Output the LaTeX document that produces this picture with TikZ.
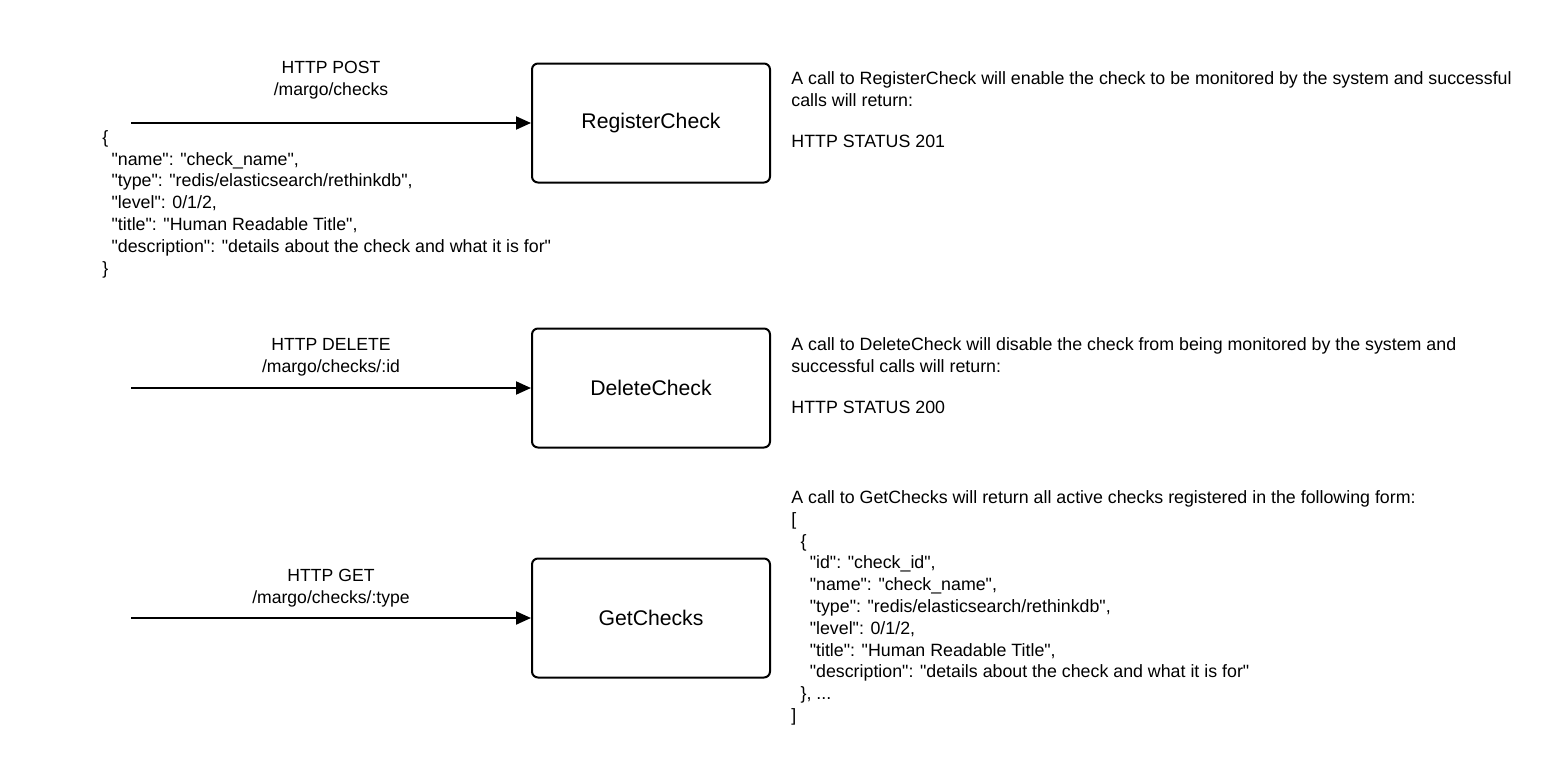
\documentclass[tikz,border=0pt]{standalone}
\usepackage{fontspec}
\setmainfont{Liberation Sans}[Ligatures=TeXOff]
\usetikzlibrary{arrows.meta,positioning}
\tikzstyle{call} = [draw=black, line width=1pt, rounded corners=3pt, minimum width=119pt, minimum height=59.5pt, inner sep=0pt, font=\fontsize{10.6}{12}\selectfont]
\tikzstyle{route} = [anchor=base, align=center, inner sep=0pt, font=\fontsize{8.8}{10.9}\selectfont]
\tikzstyle{note} = [anchor=base west, align=left, inner sep=0pt, font=\fontsize{8.9}{10.9}\selectfont]
\tikzstyle{req} = [draw=black, line width=1pt, -{Triangle[length=7.5pt, width=6.5pt]}]
\newcommand{\ind}{\hspace*{4.6pt}}

\begin{document}
\begin{tikzpicture}[x=0.5pt, y=-0.5pt]
  \useasboundingbox (0,0) rectangle (1556,782);

  % the three calls
  \node[call] (reg) at (651,123) {RegisterCheck};
  \node[call] (del) at (651,388) {DeleteCheck};
  \node[call] (get) at (651,618) {GetChecks};

  \coordinate (regin) at (131,123);
  \coordinate (delin) at (131,388);
  \coordinate (getin) at (131,618);
  \draw[req] (regin) -- (reg);
  \draw[req] (delin) -- (del);
  \draw[req] (getin) -- (get);

  % base anchor sits on the last line
  \node[route] (regverb) at (331,95.5) {HTTP POST\\/margo/checks};
  \node[route] (delverb) at (331,372) {HTTP DELETE\\/margo/checks/:id};
  \node[route] (getverb) at (331,603) {HTTP GET\\/margo/checks/:type};

  \node[note] (regbody) at (102,274) {\{\\
    \ind"name": "check\_name",\\
    \ind"type": "redis/elasticsearch/rethinkdb",\\
    \ind"level": 0/1/2,\\
    \ind"title": "Human Readable Title",\\
    \ind"description": "details about the check and what it is for"\\
    \}};

  % what each call returns
  \node[note] (regnote) at (791,147.5) {A call to RegisterCheck will enable the check to be monitored by the system and successful\\
    calls will return:\\[9.5pt]
    HTTP STATUS 201};
  \node[note] (delnote) at (791,413) {A call to DeleteCheck will disable the check from being monitored by the system and\\
    successful calls will return:\\[9.5pt]
    HTTP STATUS 200};
  \node[note] (getnote) at (791,721.5) {A call to GetChecks will return all active checks registered in the following form:\\
    {[}\\
    \ind\{\\
    \ind\ind"id": "check\_id",\\
    \ind\ind"name": "check\_name",\\
    \ind\ind"type": "redis/elasticsearch/rethinkdb",\\
    \ind\ind"level": 0/1/2,\\
    \ind\ind"title": "Human Readable Title",\\
    \ind\ind"description": "details about the check and what it is for"\\
    \ind\}, ...\\
    {]}};
\end{tikzpicture}
\end{document}
